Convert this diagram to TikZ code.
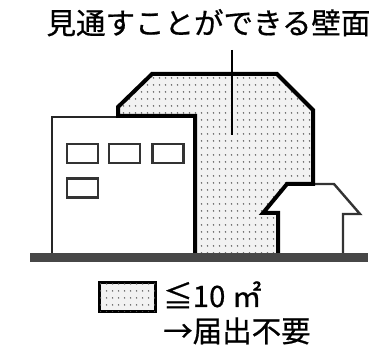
\documentclass[tikz,border=0pt]{standalone}
\usepackage{fontspec}
\setmainfont{Noto Sans CJK JP}
\newfontfamily\lblfont{Noto Sans CJK JP}[FakeBold=0.6]
\usetikzlibrary{patterns.meta}
\tikzdeclarepattern{
  name=finedots, type=uncolored,
  bounding box={(0,0) and (5.5pt,6.5pt)},
  tile size={(5.5pt,6.5pt)},
  code={\fill (2.75pt,3.25pt) circle (0.85pt);}
}
\tikzset{
  wall/.style={fill=gray!10, postaction={pattern=finedots, pattern color=black!65}},
  thickline/.style={draw=black, line width=4pt, line join=miter},
  thinline/.style={draw=black!85, line width=1.8pt},
  winline/.style={draw=black!80, line width=2.4pt},
  label/.style={font=\lblfont\fontsize{29.5}{29.5}\selectfont, inner sep=0pt},
}
\begin{document}
\begin{tikzpicture}[x=1pt,y=-1pt]
\useasboundingbox (0,0) rectangle (376,347);

% visible wall surface (dotted)
\path[wall] (195,253) -- (195,116) -- (118,116) -- (118,107) -- (152,74) -- (277,74)
  -- (313,110) -- (313,184) -- (287,184) -- (263,213) -- (278,213) -- (278,253) -- cycle;

% left building
\draw[thinline] (118,117) -- (52,117) -- (52,254);
\node[winline, minimum width=31pt, minimum height=19pt, inner sep=0pt] (w1) at (82.5,153.5) {};
\node[winline, minimum width=31pt, minimum height=19pt, inner sep=0pt] (w2) at (124.5,153.5) {};
\node[winline, minimum width=31pt, minimum height=19pt, inner sep=0pt] (w3) at (168,153.5) {};
\node[winline, minimum width=31pt, minimum height=19pt, inner sep=0pt] (w4) at (82.5,188) {};

% small house on the right
\draw[winline, line join=miter] (287,184) -- (334,184) -- (360,214) -- (343,214) -- (343,254);

% outline of the visible wall
\draw[thickline] (195,254) -- (195,116) -- (118,116) -- (118,107) -- (152,74) -- (277,74)
  -- (313,110) -- (313,184) -- (287,184) -- (263,213) -- (278,213) -- (278,254);

% ground
\fill[black!72] (30,253) rectangle (368,262);

% title and leader
\node[label, anchor=base] (title) at (208.5,34) {見通すことができる壁面};
\coordinate (tip) at (232,135);
\draw[line width=1.5pt] (232,50) -- (tip);

% legend
\node[draw=black, line width=2.5pt, wall, minimum width=56pt, minimum height=29pt, inner sep=0pt] (key) at (127.5,297) {};
\node[label, anchor=base west] (area) at (163,307) {≦10 ㎡};
\node[label, anchor=base west] (note) at (163,342) {→届出不要};
\end{tikzpicture}
\end{document}
